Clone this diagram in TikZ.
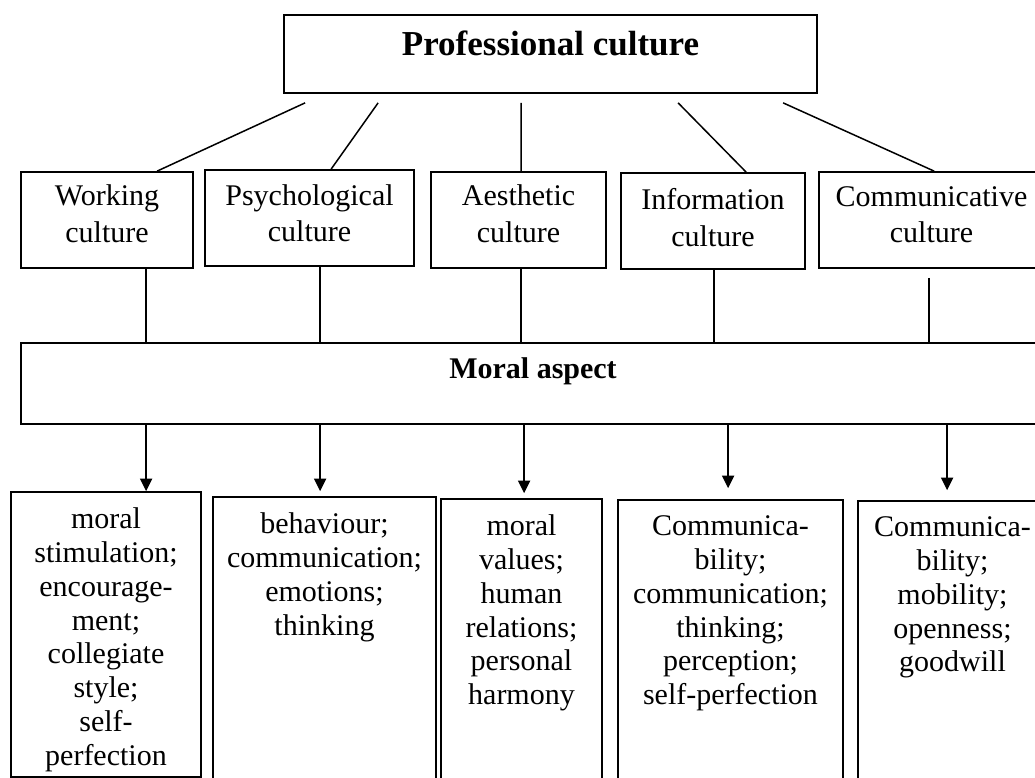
\documentclass[tikz,border=0pt]{standalone}
\usepackage{fontspec}
\setmainfont{Liberation Serif}
\usetikzlibrary{positioning,calc,arrows.meta}
\tikzset{
  box/.style={draw, line width=0.7pt, inner sep=0pt},
  midtext/.style={align=center, font=\fontsize{12}{14.6}\selectfont},
  lowtext/.style={align=center, font=\fontsize{12}{13.5}\selectfont},
  link/.style={line width=0.6pt},
  arr/.style={line width=0.6pt, -{Triangle[length=5pt,width=4.8pt]}}
}
\begin{document}
\begin{tikzpicture}[x=0.4pt,y=-0.4pt]
    % Page frame
    \clip (0,0) rectangle (1035,778);
    \fill[white] (0,0) rectangle (1035,778);

    % Top box
    \node[box, minimum width=213.2pt, minimum height=31.2pt] (prof) at (550.5,54) {};
    \node[font=\bfseries\fontsize{14}{16}\selectfont] (proft) at (550.5,43) {Professional culture};

    % Second row of boxes
    \node[box, minimum width=68.8pt, minimum height=38.4pt] (work) at (107,220) {};
    \node[box, minimum width=83.6pt, minimum height=38.4pt] (psy) at (309.5,218) {};
    \node[box, minimum width=70pt, minimum height=38.4pt] (aes) at (518.5,220) {};
    \node[box, minimum width=73.6pt, minimum height=38.4pt] (inf) at (713,221) {};
    \node[box, minimum width=90pt, minimum height=38.4pt] (com) at (931.5,220) {};

    \node[midtext, below=2pt of work.north] (workt) {Working\\culture};
    \node[midtext, below=2.5pt of psy.north] (psyt) {Psychological\\culture};
    \node[midtext, below=2pt of aes.north] (aest) {Aesthetic\\culture};
    \node[midtext, below=3pt of inf.north] (inft) {Information\\culture};
    \node[midtext, below=2.5pt of com.north] (comt) {Communicative\\culture};

    % Moral aspect band
    \node[box, minimum width=409.6pt, minimum height=32.4pt] (moral) at (533,383.5) {};
    \node[font=\bfseries\fontsize{12}{14}\selectfont] (moralt) at (533,371) {Moral aspect};

    % Bottom row of boxes
    \node[box, minimum width=76pt, minimum height=114pt] (low1) at (106,634.5) {};
    \node[box, minimum width=89.2pt, minimum height=129.2pt] (low2) at (324.5,658.5) {};
    \node[box, minimum width=64.4pt, minimum height=128.4pt] (low3) at (521.5,659.5) {};
    \node[box, minimum width=90pt, minimum height=128pt] (low4) at (730.5,660) {};
    \node[box, minimum width=75.6pt, minimum height=127.6pt] (low5) at (952.5,660.5) {};

    \node[lowtext, below=3.2pt of low1.north] (low1t) {moral\\stimulation;\\encourage-\\ment;\\collegiate\\style;\\self-\\perfection};
    \node[lowtext, below=3.2pt of low2.north] (low2t) {behaviour;\\communication;\\emotions;\\thinking};
    \node[lowtext, below=3.2pt of low3.north] (low3t) {moral\\values;\\human\\relations;\\personal\\harmony};
    \node[lowtext, below=3.2pt of low4.north] (low4t) {Communica-\\bility;\\communication;\\thinking;\\perception;\\self-perfection};
    \node[lowtext, below=3.2pt of low5.north] (low5t) {Communica-\\bility;\\mobility;\\openness;\\goodwill};

    % Lines from the top box
    \draw[link] ($(prof.south west)+(22,9)$) -- ($(work.north west)+(137,0)$);
    \draw[link] ($(prof.south west)+(95,9)$) -- ($(psy.north west)+(127,0)$);
    \draw[link] ($(prof.south west)+(238,9)$) -- ($(aes.north west)+(91,0)$);
    \draw[link] ($(prof.south west)+(395,9)$) -- ($(inf.north west)+(126,0)$);
    \draw[link] ($(prof.south west)+(500,9)$) -- ($(com.north west)+(116,0)$);

    % Lines into the moral band
    \draw[link] ($(work.south west)+(126,0)$) coordinate (v1) -- (v1 |- moral.north);
    \draw[link] ($(psy.south west)+(116,0)$) coordinate (v2) -- (v2 |- moral.north);
    \draw[link] ($(aes.south west)+(91,0)$) coordinate (v3) -- (v3 |- moral.north);
    \draw[link] ($(inf.south west)+(94,0)$) coordinate (v4) -- (v4 |- moral.north);
    \draw[link] ($(com.south west)+(111,9)$) coordinate (v5) -- (v5 |- moral.north);

    % Arrows down to the bottom boxes
    \draw[arr] ($(moral.south west)+(126,0)$) coordinate (d1) -- (d1 |- low1.north);
    \draw[arr, shorten >=2pt] ($(moral.south west)+(300,0)$) coordinate (d2) -- (d2 |- low2.north);
    \draw[arr, shorten >=2pt] ($(moral.south west)+(504,0)$) coordinate (d3) -- (d3 |- low3.north);
    \draw[arr, shorten >=4.4pt] ($(moral.south west)+(708,0)$) coordinate (d4) -- (d4 |- low4.north);
    \draw[arr, shorten >=4pt] ($(moral.south west)+(927,0)$) coordinate (d5) -- (d5 |- low5.north);
\end{tikzpicture}
\end{document}
